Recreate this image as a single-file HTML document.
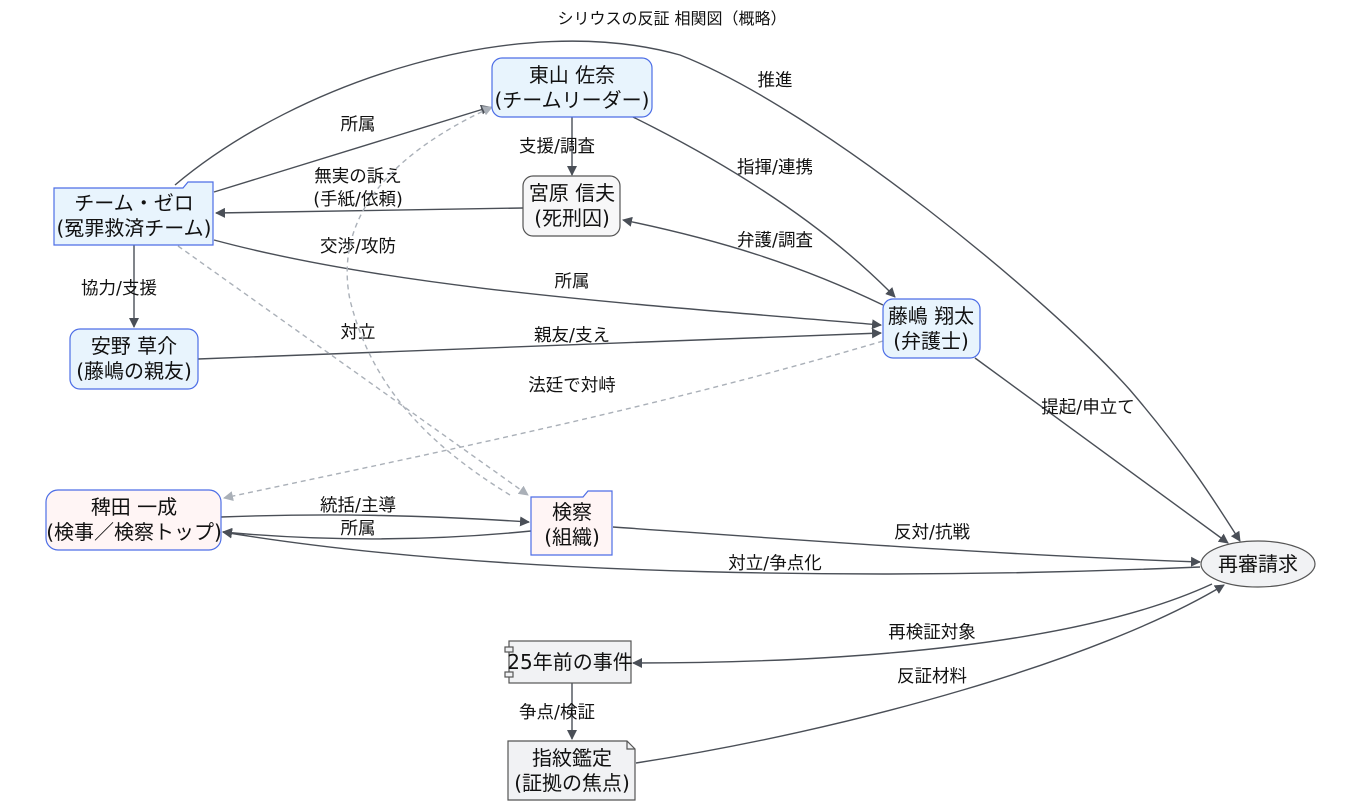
<!DOCTYPE html>
<html><head><meta charset="utf-8"><style>
html,body{margin:0;padding:0;background:#fff}
svg{display:block}
text{font-family:"DejaVu Sans","Noto Sans CJK JP",sans-serif;fill:#111}
.n{font-size:20px;text-anchor:middle}
.e{font-size:17.5px;text-anchor:middle}
.l{fill:none;stroke:#4a4f57;stroke-width:1.4}
.d{fill:none;stroke:#aab0b8;stroke-width:1.4;stroke-dasharray:5,4}
.b{fill:#e8f4fd;stroke:#4d6ee6;stroke-width:1.2}
.p{fill:#fff5f5;stroke:#4d6ee6;stroke-width:1.2}
.g{fill:#f1f2f4;stroke:#555;stroke-width:1.2}
</style></head><body>
<svg width="1348" height="810" viewBox="0 0 1348 810">
<defs>
<marker id="a" viewBox="0 0 10 10" refX="9" refY="5" markerWidth="10" markerHeight="10" orient="auto" markerUnits="userSpaceOnUse"><path d="M0,0L10,5L0,10z" fill="#4a4f57"/></marker>
<marker id="ag" viewBox="0 0 10 10" refX="9" refY="5" markerWidth="10" markerHeight="10" orient="auto" markerUnits="userSpaceOnUse"><path d="M0,0L10,5L0,10z" fill="#aab0b8"/></marker>
</defs>
<text x="672" y="24" class="e" style="font-size:16px">シリウスの反証 相関図（概略）</text>

<path class="l" d="M175,185 C300,80 520,10 680,55 C820,110 1050,300 1130,390 C1190,460 1220,510 1240,541" marker-end="url(#a)"/>
<text x="775" y="86" class="e">推進</text>
<path class="l" d="M214,192 L490,107" marker-end="url(#a)"/>
<text x="358" y="130" class="e">所属</text>
<path class="l" d="M572,117 L572,175" marker-end="url(#a)"/>
<text x="557" y="152" class="e">支援/調査</text>
<path class="l" d="M633,117 C720,160 820,220 895,297" marker-end="url(#a)"/>
<text x="775" y="173" class="e">指揮/連携</text>
<path class="l" d="M523,208 L216,213" marker-end="url(#a)"/>
<text x="358" y="182" class="e">無実の訴え</text>
<text x="358" y="205" class="e">(手紙/依頼)</text>
<path class="l" d="M883,305 C800,265 720,240 623,220" marker-end="url(#a)"/>
<text x="775" y="246" class="e">弁護/調査</text>
<path class="l" d="M214,240 C400,290 650,305 881,325" marker-end="url(#a)"/>
<text x="572" y="287" class="e">所属</text>
<text x="358" y="252" class="e">交渉/攻防</text>
<path class="l" d="M134,245 L134,327" marker-end="url(#a)"/>
<text x="119" y="294" class="e">協力/支援</text>
<path class="l" d="M198,359 C450,350 700,340 881,333" marker-end="url(#a)"/>
<text x="572" y="341" class="e">親友/支え</text>
<path class="d" d="M178,246 L528,495" marker-end="url(#ag)"/>
<text x="358" y="338" class="e">対立</text>
<path class="d" d="M883,341 C650,410 400,460 224,498" marker-end="url(#ag)"/>
<text x="572" y="391" class="e">法廷で対峙</text>
<path class="d" d="M510,495 C420,440 370,380 350,300 C330,200 420,140 492,107" marker-end="url(#ag)"/>
<path class="l" d="M975,358 L1228,543" marker-end="url(#a)"/>
<text x="1088" y="413" class="e">提起/申立て</text>
<path class="l" d="M221,517 C330,513 420,515 529,522" marker-end="url(#a)"/>
<text x="358" y="511" class="e">統括/主導</text>
<path class="l" d="M531,531 C420,542 320,541 223,532" marker-end="url(#a)"/>
<text x="358" y="534" class="e">所属</text>
<path class="l" d="M613,527 C800,540 1000,555 1200,562" marker-end="url(#a)"/>
<text x="932" y="538" class="e">反対/抗戦</text>
<path class="l" d="M1200,567 C900,580 500,578 223,532" marker-end="url(#a)"/>
<text x="775" y="569" class="e">対立/争点化</text>
<path class="l" d="M1212,584 C1080,645 850,663 633,663" marker-end="url(#a)"/>
<text x="932" y="638" class="e">再検証対象</text>
<path class="l" d="M572,683 L572,739" marker-end="url(#a)"/>
<text x="557" y="718" class="e">争点/検証</text>
<path class="l" d="M636,763 C850,730 1100,660 1224,585" marker-end="url(#a)"/>
<text x="932" y="682" class="e">反証材料</text>

<rect class="b" x="492" y="58" width="160" height="59" rx="10"/>
<text class="n" x="572" y="82">東山 佐奈</text><text class="n" x="572" y="107">(チームリーダー)</text>

<path class="b" d="M54,188 L183,188 L188,182 L213,182 L213,245 L54,245 Z"/>
<text class="n" x="134" y="210">チーム・ゼロ</text><text class="n" x="134" y="235">(冤罪救済チーム)</text>

<rect class="g" x="523" y="176" width="97" height="60" rx="10" style="fill:#f7f7f8"/>
<text class="n" x="572" y="200">宮原 信夫</text><text class="n" x="572" y="225">(死刑囚)</text>

<rect class="b" x="883" y="299" width="97" height="59" rx="10"/>
<text class="n" x="931" y="323">藤嶋 翔太</text><text class="n" x="931" y="348">(弁護士)</text>

<rect class="b" x="70" y="329" width="128" height="60" rx="10"/>
<text class="n" x="134" y="353">安野 草介</text><text class="n" x="134" y="378">(藤嶋の親友)</text>

<rect class="p" x="46" y="490" width="175" height="60" rx="12"/>
<text class="n" x="134" y="514">稗田 一成</text><text class="n" x="134" y="539">(検事／検察トップ)</text>

<path class="p" d="M531,497 L583,497 L588,491 L612,491 L612,555 L531,555 Z"/>
<text class="n" x="572" y="519">検察</text><text class="n" x="572" y="544">(組織)</text>

<ellipse class="g" cx="1258" cy="564" rx="57" ry="23"/>
<text class="n" x="1258" y="571">再審請求</text>

<rect class="g" x="509" y="641" width="122" height="42"/>
<rect class="g" x="505" y="647" width="8" height="5"/><rect class="g" x="505" y="672" width="8" height="5"/>
<text class="n" x="570" y="669">25年前の事件</text>

<path class="g" d="M508,741 L627,741 L635,749 L635,800 L508,800 Z"/>
<path d="M627,741 L627,749 L635,749" fill="none" stroke="#555" stroke-width="1.2"/>
<text class="n" x="572" y="765">指紋鑑定</text><text class="n" x="572" y="790">(証拠の焦点)</text>
</svg>
</body></html>
